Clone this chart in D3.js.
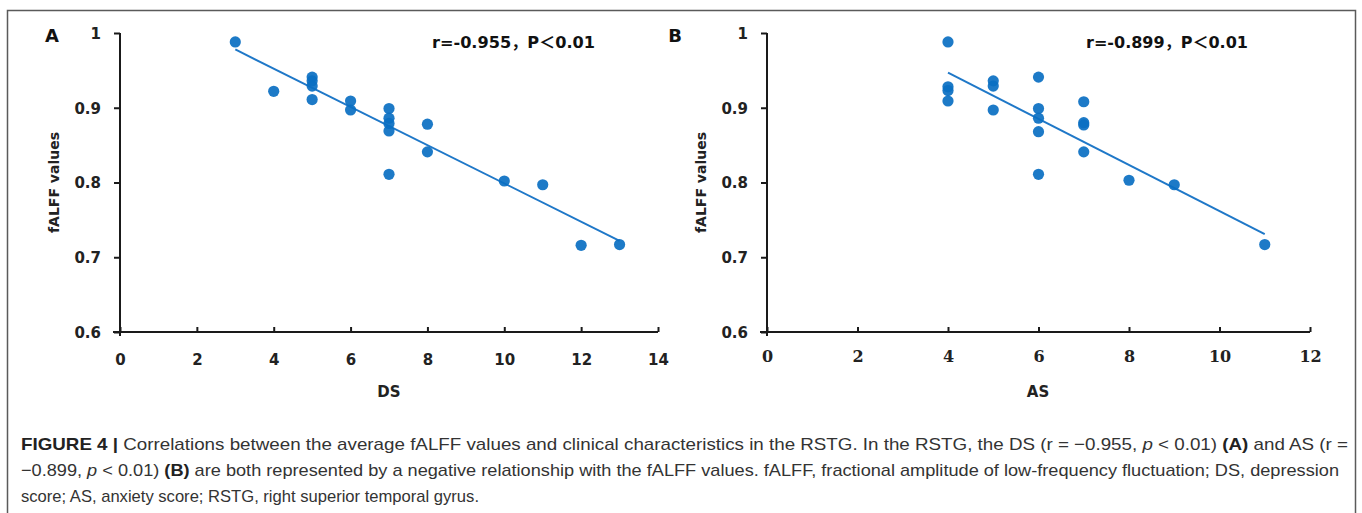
<!DOCTYPE html>
<html>
<head>
<meta charset="utf-8">
<script src="https://cdn.jsdelivr.net/npm/d3@7/dist/d3.min.js"></script>
<style>
  html, body { margin: 0; padding: 0; background: #fff; }
  svg { display: block; }
</style>
</head>
<body>
<svg id="chart" width="1362" height="513"></svg>
<script>
// ---------- DATA ----------
const dsX = [3, 4, 5, 5, 5, 5, 6, 6, 7, 7, 7, 7, 7, 8, 8, 10, 11, 12, 13];
const dsY = [0.988, 0.922, 0.941, 0.936, 0.929, 0.911, 0.909, 0.897, 0.899, 0.886, 0.879, 0.869, 0.811, 0.878, 0.841, 0.802, 0.797, 0.716, 0.717];
const asX = [4, 4, 4, 4, 5, 5, 5, 6, 6, 6, 6, 6, 7, 7, 7, 7, 8, 9, 11];
const asY = [0.988, 0.928, 0.923, 0.909, 0.936, 0.929, 0.897, 0.941, 0.899, 0.886, 0.868, 0.811, 0.908, 0.880, 0.877, 0.841, 0.803, 0.797, 0.717];
const fitAX = [3, 13];
const fitAY = [0.978, 0.722];
const fitBX = [4, 11];
const fitBY = [0.947, 0.731];
const xTicksA = [0, 2, 4, 6, 8, 10, 12, 14];
const xTicksB = [0, 2, 4, 6, 8, 10, 12];
const yTicks = [0.6, 0.7, 0.8, 0.9, 1];
const yTickLabels = ["0.6", "0.7", "0.8", "0.9", "1"];
const panelLetters = ["A", "B"];
const xTitles = ["DS", "AS"];
const yTitle = "fALFF values";
const annotations = ["r=-0.955，P＜0.01", "r=-0.899，P＜0.01"];

const dotColor = "#0a6fc2";
const lineColor = "#1f78c8";
const axisColor = "#1a1a1a";

const svg = d3.select("#chart");

// frame
svg.append("rect")
  .attr("x", 7.5).attr("y", 10.5)
  .attr("width", 1348).attr("height", 530)
  .attr("fill", "none").attr("stroke", "#5a5a5a").attr("stroke-width", 1.5);

const panels = [
  { xs: dsX, ys: dsY, fx: fitAX, fy: fitAY, xDomain: [0, 14], xRange: [120, 658], xTicks: xTicksA,
    xFont: "'DejaVu Sans', sans-serif", xWeight: "bold", xSize: 15, xBase: 365,
    letterX: 52, annX: 432, annW: 163, titleX: 389 },
  { xs: asX, ys: asY, fx: fitBX, fy: fitBY, xDomain: [0, 12], xRange: [767, 1310], xTicks: xTicksB,
    xFont: "'DejaVu Serif', serif", xWeight: "bold", xSize: 16, xBase: 362,
    letterX: 675, annX: 1086, annW: 162, titleX: 1038 }
];

panels.forEach((p, i) => {
  const x = d3.scaleLinear().domain(p.xDomain).range(p.xRange);
  const y = d3.scaleLinear().domain([0.6, 1]).range([332, 33]);
  const g = svg.append("g");

  // y axis
  const yAxis = d3.axisLeft(y).tickValues(yTicks)
    .tickFormat((d, k) => yTickLabels[k])
    .tickSizeInner(6).tickSizeOuter(0).tickPadding(13);
  const ya = g.append("g").attr("transform", `translate(${p.xRange[0]},0)`).call(yAxis);
  ya.select(".domain").attr("stroke", axisColor).attr("stroke-width", 2)
    .attr("d", `M0,${y(1)}V${y(0.6) + 4}`);
  ya.selectAll(".tick line").attr("stroke", axisColor).attr("stroke-width", 2);
  ya.selectAll(".tick text")
    .attr("font-family", "'DejaVu Sans', sans-serif").attr("font-weight", "bold")
    .attr("font-size", 15).attr("fill", "#222").attr("dy", "0.36em");

  // x axis
  const xAxis = d3.axisBottom(x).tickValues(p.xTicks)
    .tickSizeInner(-5).tickSizeOuter(0).tickPadding(0);
  const xa = g.append("g").attr("transform", `translate(0,${y(0.6)})`).call(xAxis);
  xa.select(".domain").attr("stroke", axisColor).attr("stroke-width", 2)
    .attr("d", `M${p.xRange[0] - 7},0H${p.xRange[1]}`);
  xa.selectAll(".tick line").attr("stroke", axisColor).attr("stroke-width", 2);
  xa.selectAll(".tick text")
    .attr("font-family", p.xFont).attr("font-weight", p.xWeight)
    .attr("font-size", p.xSize).attr("fill", "#222")
    .attr("y", p.xBase - y(0.6)).attr("dy", 0);

  // fit line
  const fitPts = p.fx.map((d, k) => [d, p.fy[k]]);
  g.append("path")
    .datum(fitPts)
    .attr("d", d3.line().x(d => x(d[0])).y(d => y(d[1])))
    .attr("fill", "none").attr("stroke", lineColor).attr("stroke-width", 2);

  // points
  const pts = p.xs.map((d, k) => [d, p.ys[k]]);
  g.selectAll("circle.pt").data(pts).join("circle")
    .attr("class", "pt")
    .attr("cx", d => x(d[0])).attr("cy", d => y(d[1]))
    .attr("r", 5.6).attr("fill", dotColor).attr("fill-opacity", 0.92);

  // panel letter
  svg.append("text").attr("x", p.letterX).attr("y", 42)
    .attr("text-anchor", "middle")
    .attr("font-family", "'DejaVu Sans', sans-serif").attr("font-weight", "bold")
    .attr("font-size", 18).attr("fill", "#111").text(panelLetters[i]);

  // annotation
  svg.append("text").attr("x", p.annX).attr("y", 48)
    .attr("font-family", "'DejaVu Sans', 'Noto Sans CJK SC', sans-serif").attr("font-weight", "bold")
    .attr("font-size", 16).attr("fill", "#111")
    .attr("textLength", p.annW).attr("lengthAdjust", "spacingAndGlyphs")
    .text(annotations[i]);

  // x title
  svg.append("text").attr("x", p.titleX).attr("y", 397)
    .attr("text-anchor", "middle")
    .attr("font-family", "'DejaVu Sans', sans-serif").attr("font-weight", "bold")
    .attr("font-size", 15).attr("fill", "#222").text(xTitles[i]);

  // y title
  svg.append("text")
    .attr("transform", `translate(${p.xRange[0] - 61},${y(0.8)}) rotate(-90)`)
    .attr("text-anchor", "middle")
    .attr("font-family", "'DejaVu Sans', sans-serif").attr("font-weight", "bold")
    .attr("font-size", 14).attr("fill", "#222").text(yTitle);
});

// caption
const capFont = "'Liberation Sans', Arial, sans-serif";
const capLines = [
  { y: 450, w: 1327, parts: [
    { t: "FIGURE 4 | ", b: true },
    { t: "Correlations between the average fALFF values and clinical characteristics in the RSTG. In the RSTG, the DS (r = −0.955, " },
    { t: "p", it: true }, { t: " < 0.01) " }, { t: "(A)", b: true }, { t: " and AS (r =" } ] },
  { y: 476, w: 1318, parts: [
    { t: "−0.899, " }, { t: "p", it: true }, { t: " < 0.01) " }, { t: "(B)", b: true },
    { t: " are both represented by a negative relationship with the fALFF values. fALFF, fractional amplitude of low-frequency fluctuation; DS, depression" } ] },
  { y: 502, w: 458, parts: [
    { t: "score; AS, anxiety score; RSTG, right superior temporal gyrus." } ] }
];
capLines.forEach(L => {
  const t = svg.append("text").attr("x", 21).attr("y", L.y)
    .attr("font-family", capFont).attr("font-size", 17).attr("fill", "#333")
    .attr("xml:space", "preserve").style("white-space", "pre");
  L.parts.forEach(pt => {
    t.append("tspan").text(pt.t)
      .attr("font-weight", pt.b ? "bold" : null)
      .attr("font-style", pt.it ? "italic" : null)
      .attr("fill", pt.b ? "#222" : null);
  });
  t.attr("textLength", L.w).attr("lengthAdjust", "spacingAndGlyphs");
});
</script>
</body>
</html>
